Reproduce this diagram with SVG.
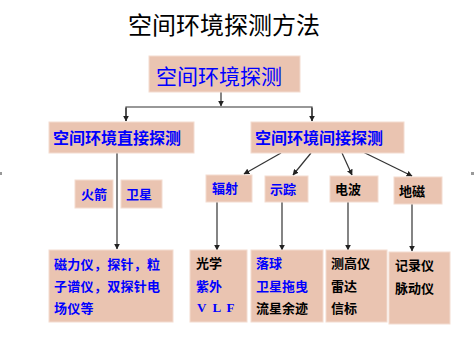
<svg xmlns="http://www.w3.org/2000/svg" width="474" height="343" viewBox="0 0 474 343">
<style>
.box{fill:#EAC4B1;stroke:#F3DCD0;stroke-width:1}
.t{font-family:"Noto Sans CJK SC","Liberation Sans",sans-serif;font-weight:bold}
.s{font-size:13px}
.b{fill:#0000FF}
.k{fill:#000}
.ln{stroke:#333;stroke-width:1.2;fill:none}
</style>
<defs>
<marker id="ah" viewBox="0 0 10 10" refX="9" refY="5" markerWidth="6" markerHeight="6" orient="auto" markerUnits="userSpaceOnUse">
<path d="M0,0 L10,5 L0,10 z" fill="#222"/>
</marker>
</defs>
<rect width="474" height="343" fill="#fff"/>
<rect x="0" y="172" width="2" height="3" fill="#999"/>
<rect x="471" y="172" width="3" height="3" fill="#999"/>
<text x="128" y="34" font-family="'Noto Sans CJK SC',sans-serif" font-size="24" fill="#000">空间环境探测方法</text>

<g id="connectors">
<path class="ln" d="M221,92 V106" marker-end="url(#ah)"/>
<path class="ln" d="M126,121 V107 H312 V121"/>
<path class="ln" d="M126,108 V121" marker-end="url(#ah)"/>
<path class="ln" d="M312,108 V121" marker-end="url(#ah)"/>
<path class="ln" d="M117,153 V249" marker-end="url(#ah)"/>
<path class="ln" d="M281,153 L244,174" marker-end="url(#ah)"/>
<path class="ln" d="M311,153 L293,175" marker-end="url(#ah)"/>
<path class="ln" d="M342,153 L352,175" marker-end="url(#ah)"/>
<path class="ln" d="M363,152 L412,176" marker-end="url(#ah)"/>
<path class="ln" d="M217,202 V250" marker-end="url(#ah)"/>
<path class="ln" d="M282,202 V250" marker-end="url(#ah)"/>
<path class="ln" d="M348,202 V250" marker-end="url(#ah)"/>
<path class="ln" d="M412,204 V251" marker-end="url(#ah)"/>
</g>

<g id="root">
<rect class="box" x="149" y="56" width="151" height="36"/>
<text x="156" y="84" font-family="'Noto Sans CJK SC',sans-serif" font-size="21" class="b">空间环境探测</text>
</g>
<g id="direct">
<rect class="box" x="49" y="122" width="145" height="31"/>
<text x="53" y="144" class="t b" font-size="16">空间环境直接探测</text>
</g>
<g id="indirect">
<rect class="box" x="251" y="122" width="153" height="31"/>
<text x="255" y="144" class="t b" font-size="16">空间环境间接探测</text>
</g>
<g id="rocket">
<rect class="box" x="75" y="180" width="38" height="28"/>
<text x="81" y="199" class="t s b">火箭</text>
</g>
<g id="satellite">
<rect class="box" x="121" y="180" width="41" height="28"/>
<text x="126" y="199" class="t s b">卫星</text>
</g>
<g id="radiation">
<rect class="box" x="206" y="175" width="46" height="27"/>
<text x="212" y="193" class="t s b">辐射</text>
</g>
<g id="tracer">
<rect class="box" x="265" y="176" width="43" height="26"/>
<text x="270" y="194" class="t s b">示踪</text>
</g>
<g id="radiowave">
<rect class="box" x="330" y="176" width="48" height="26"/>
<text x="335" y="194" class="t s k">电波</text>
</g>
<g id="geomag">
<rect class="box" x="394" y="177" width="48" height="27"/>
<text x="399" y="196" class="t s k">地磁</text>
</g>
<g id="direct-inst">
<rect class="box" x="49" y="250" width="124" height="72"/>
<text x="54" y="269" class="t s b" letter-spacing="0.3">磁力仪，探针，粒</text>
<text x="54" y="291" class="t s b" letter-spacing="0.3">子谱仪，双探针电</text>
<text x="54" y="313" class="t s b" letter-spacing="0.3">场仪等</text>
</g>
<g id="rad-inst">
<rect class="box" x="190" y="250" width="57" height="72"/>
<text x="196" y="268" class="t s k">光学</text>
<text x="196" y="291" class="t s b">紫外</text>
<text x="197" y="312" font-family="'Liberation Serif',serif" font-weight="bold" font-size="13" letter-spacing="1.5" class="b">V L F</text>
</g>
<g id="tracer-inst">
<rect class="box" x="251" y="250" width="72" height="72"/>
<text x="256" y="268" class="t s b">落球</text>
<text x="256" y="291" class="t s b">卫星拖曳</text>
<text x="256" y="313" class="t s k">流星余迹</text>
</g>
<g id="wave-inst">
<rect class="box" x="326" y="250" width="61" height="72"/>
<text x="331" y="268" class="t s k">测高仪</text>
<text x="331" y="291" class="t s k">雷达</text>
<text x="331" y="313" class="t s k">信标</text>
</g>
<g id="mag-inst">
<rect class="box" x="389" y="252" width="61" height="72"/>
<text x="395" y="270" class="t s k">记录仪</text>
<text x="395" y="293" class="t s k">脉动仪</text>
</g>
</svg>
